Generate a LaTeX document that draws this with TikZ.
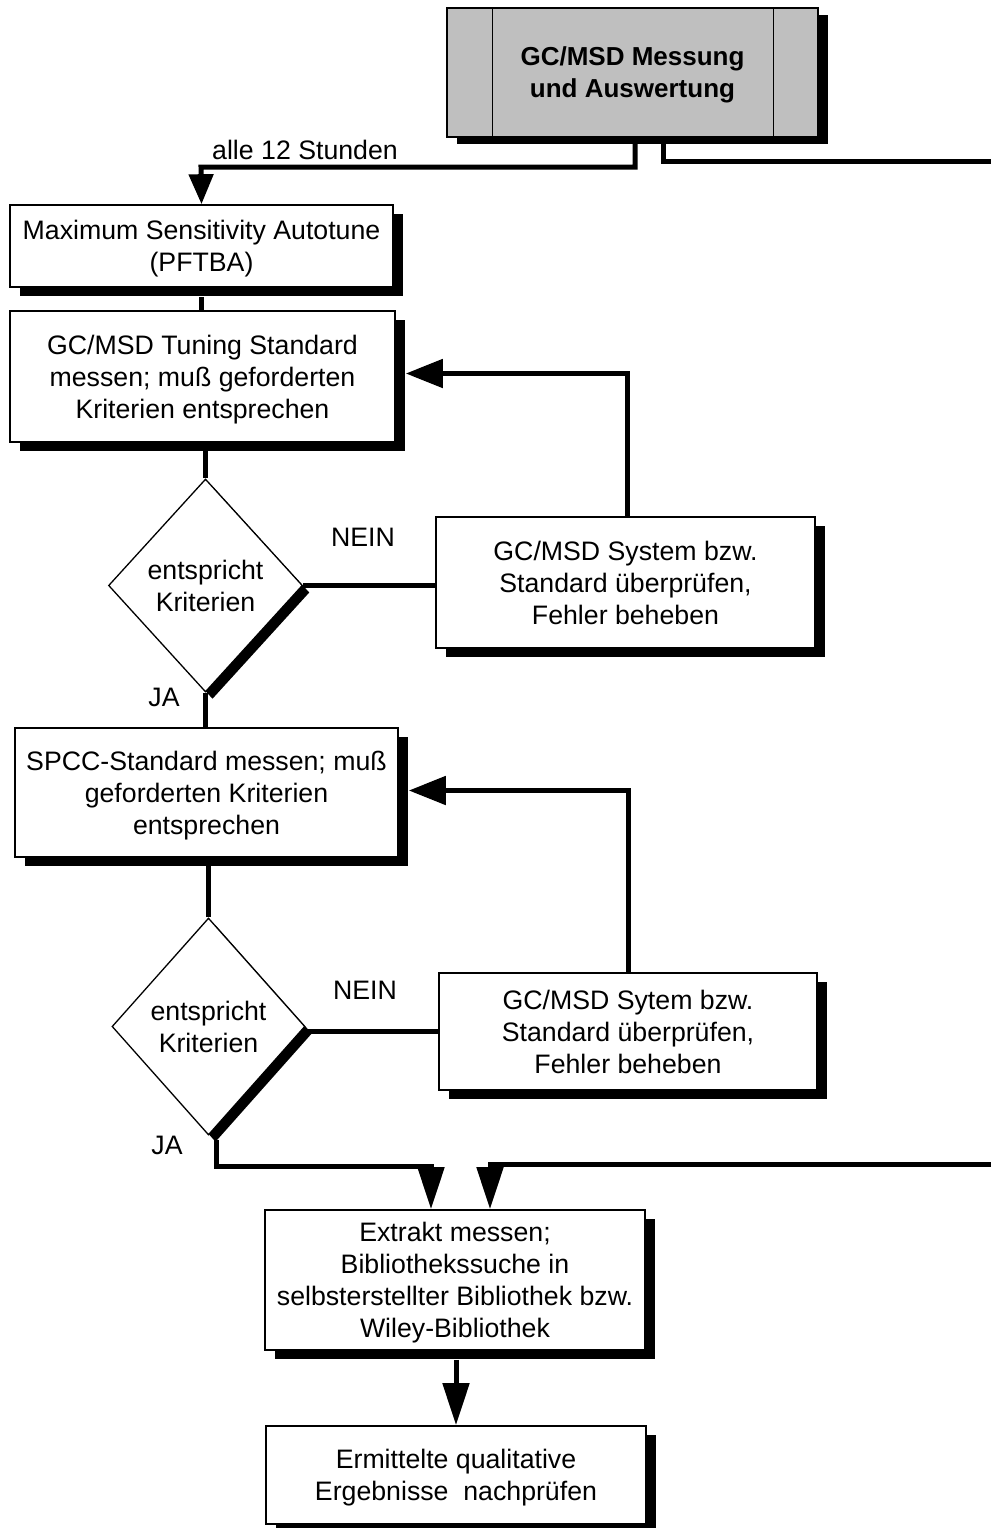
\documentclass[tikz,border=0pt]{standalone}
\usepackage{fontspec}
\setmainfont{Liberation Sans}
\usetikzlibrary{shapes.geometric,arrows.meta,shadows,calc}
\begin{document}
\begin{tikzpicture}[x=1pt,y=-1pt,
  every node/.style={font=\fontsize{26.7}{32}\selectfont},
  boxbase/.style={draw, line width=1.6pt, fill=white, align=center, inner sep=0pt, text depth=0pt},
  box/.style={boxbase, general shadow={fill=black, shadow xshift=10pt, shadow yshift=-9pt}},
  dia/.style={diamond, draw, line width=1.3pt, fill=white, align=center, inner sep=0pt,
     minimum width=194pt, minimum height=213pt,
     general shadow={fill=black, shadow xshift=7pt, shadow yshift=-7pt}},
  lab/.style={inner sep=0pt},
  conn/.style={line width=5pt},
  tiptop/.style={-{Triangle[length=30pt,width=24pt]}},
  tipside/.style={-{Triangle[length=37pt,width=28pt]}},
  tipbot/.style={-{Triangle[length=42pt,width=26pt]}}
]
\useasboundingbox (0,0) rectangle (991,1528);

% nodes
\node[boxbase, fill=black!25, minimum width=371pt, minimum height=129pt,
      font=\fontsize{26}{32}\selectfont\bfseries,
      general shadow={fill=black, shadow xshift=10pt, shadow yshift=-7pt}]
      (top) at (632.5,72.5) {GC/MSD Messung\\und Auswertung};
\draw[line width=1.3pt] ([xshift=46pt]top.north west) -- ([xshift=46pt]top.south west);
\draw[line width=1.3pt] ([xshift=-45pt]top.north east) -- ([xshift=-45pt]top.south east);

\node[box, minimum width=383pt, minimum height=82pt] (b1) at (201.5,246)
  {Maximum Sensitivity Autotune\\(PFTBA)};
\node[box, minimum width=385pt, minimum height=131pt] (b2) at (202.5,376.5)
  {GC/MSD Tuning Standard\\messen; muß geforderten\\Kriterien entsprechen};
\node[dia] (d1) at (205.5,585.5) {entspricht\\Kriterien};
\node[box, minimum width=379pt, minimum height=131pt] (b3) at (625.5,582.5)
  {GC/MSD System bzw.\\Standard überprüfen,\\Fehler beheben};
\node[box, minimum width=383pt, minimum height=129pt] (b4) at (206.5,792.5)
  {SPCC-Standard messen; muß\\geforderten Kriterien\\entsprechen};
\node[dia, minimum width=193pt, minimum height=217pt] (d2) at (208.5,1026.5) {entspricht\\Kriterien};
\node[box, minimum width=378pt, minimum height=117pt] (b5) at (628,1031.5)
  {GC/MSD Sytem bzw.\\Standard überprüfen,\\Fehler beheben};
\node[box, minimum width=380pt, minimum height=140pt] (b6) at (455,1280)
  {Extrakt messen;\\Bibliothekssuche in\\selbsterstellter Bibliothek bzw.\\Wiley-Bibliothek};
\node[box, minimum width=380pt, minimum height=98pt] (b7) at (456,1475)
  {Ermittelte qualitative\\Ergebnisse\ \ nachprüfen};

% labels
\node[lab] (lall) at (305,150) {alle 12 Stunden};
\node[lab] (ln1) at (363,537) {NEIN};
\node[lab] (lj1) at (164,697) {JA};
\node[lab] (ln2) at (365,990) {NEIN};
\node[lab] (lj2) at (167,1145) {JA};

% free ends and helper points
\coordinate (rout) at (991,161);
\coordinate (rin) at (991,1164);
\coordinate (d2e) at ([yshift=-5pt]d2.east);

% connectors
\draw[conn,tiptop] ([xshift=2.5pt,yshift=-6pt]top.south) |- (201,167) -- (b1.north);
\draw[conn] ([xshift=30.5pt,yshift=-6pt]top.south) |- (rout);
\draw[conn] ([yshift=-9pt]b1.south) -- (b1.south |- b2.north);
\draw[conn] (d1.north |- b2.south) -- (d1.north);
\draw[conn] (d1.east) -- (b3.west |- d1.east);
\draw[conn,tipside] ([xshift=1.5pt]b3.north) |- ([xshift=10pt,yshift=3pt]b2.east);
\draw[conn] (d1.south) -- (d1.south |- b4.north);
\draw[conn] (d2.north |- b4.south) -- (d2.north);
\draw[conn] (d2e) -- (d2e -| b5.west);
\draw[conn,tipside] (b5.north) |- ([xshift=10pt,yshift=2pt]b4.east);
\draw[conn,tipbot] ([xshift=8pt,yshift=-4pt]d2.south) |- (431,1166) -- ([xshift=-24pt]b6.north);
\draw[conn,tipbot] (rin) -| ([xshift=35pt]b6.north);
\draw[conn,tipbot] ([xshift=1pt,yshift=-9pt]b6.south) -- (b7.north);
\end{tikzpicture}
\end{document}
